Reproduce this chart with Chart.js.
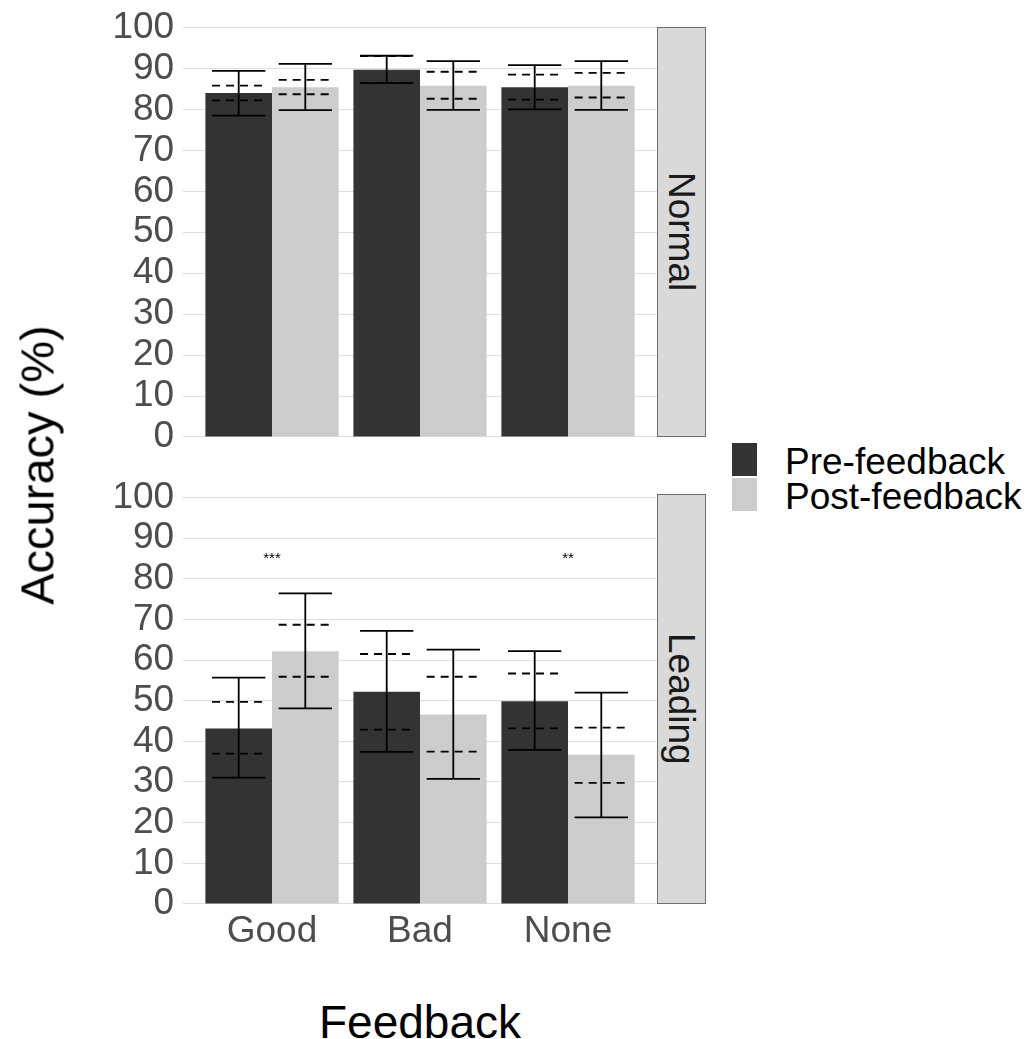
<!DOCTYPE html>
<html>
<head>
<meta charset="utf-8">
<script src="https://cdn.jsdelivr.net/npm/chart.js@4/dist/chart.umd.min.js"></script>
<style>
  html, body { margin:0; padding:0; background:#fff; }
  body { width:1027px; height:1039px; position:relative; overflow:hidden; font-family:"Liberation Sans", Arial, sans-serif; }
  canvas { position:absolute; left:0; }
  .strip { position:absolute; box-sizing:border-box; background:#d9d9d9; border:1px solid #6e6e6e;
           display:flex; align-items:center; justify-content:center; }
  .strip span { writing-mode:vertical-rl; font-size:37px; color:#1a1a1a; line-height:1; }
  .ytitle { position:absolute; font-size:47px; color:#000; white-space:nowrap; line-height:1;
            transform:translate(-50%,-50%) rotate(-90deg); }
  .xtitle { position:absolute; font-size:46px; color:#000; white-space:nowrap; line-height:1;
            transform:translate(-50%,-50%); }
  .key { position:absolute; width:25px; height:33px; }
  .ltext { position:absolute; font-size:37px; color:#000; line-height:1; white-space:nowrap; transform:translateY(-50%); }
</style>
</head>
<body>
<canvas id="c1" width="720" height="470" style="top:0;width:720px;height:470px"></canvas>
<canvas id="c2" width="720" height="500" style="top:470px;width:720px;height:500px"></canvas>

<div class="strip" style="left:656.8px;top:27px;width:49.5px;height:410px"><span>Normal</span></div>
<div class="strip" style="left:656.8px;top:494px;width:49.5px;height:410px"><span>Leading</span></div>
<div class="ytitle" style="left:37px;top:465px">Accuracy (%)</div>
<div class="xtitle" style="left:420px;top:1022px">Feedback</div>
<div class="key" style="left:732px;top:443px;background:#333333"></div>
<div class="key" style="left:732px;top:478px;background:#cccccc"></div>
<div class="ltext" style="left:785px;top:461px">Pre-feedback</div>
<div class="ltext" style="left:785px;top:496px">Post-feedback</div>

<script>
// ---- data ----
const categories = ['Good', 'Bad', 'None'];
const seriesNames = ['Pre-feedback', 'Post-feedback'];
const yTicks = [0, 10, 20, 30, 40, 50, 60, 70, 80, 90, 100];

// Normal condition
const normalPre = [84.0, 89.7, 85.4];
const normalPost = [85.4, 85.8, 85.8];
const normalPreLow = [78.5, 86.4, 80.0];
const normalPreHigh = [89.4, 93.1, 90.8];
const normalPostLow = [79.8, 79.9, 79.9];
const normalPostHigh = [91.1, 91.8, 91.8];
const normalPreDashLow = [82.2, 86.4, 82.4];
const normalPreDashHigh = [85.8, 93.0, 88.5];
const normalPostDashLow = [83.7, 82.6, 82.9];
const normalPostDashHigh = [87.2, 89.2, 88.9];
const normalSig = ['', '', ''];

// Leading condition
const leadingPre = [43.2, 52.2, 49.9];
const leadingPost = [62.2, 46.6, 36.7];
const leadingPreLow = [31.1, 37.4, 37.9];
const leadingPreHigh = [55.7, 67.2, 62.2];
const leadingPostLow = [48.1, 30.8, 21.3];
const leadingPostHigh = [76.4, 62.6, 52.0];
const leadingPreDashLow = [37.0, 42.9, 43.2];
const leadingPreDashHigh = [49.7, 61.5, 56.7];
const leadingPostDashLow = [55.9, 37.5, 29.8];
const leadingPostDashHigh = [68.7, 55.9, 43.4];
const leadingSig = ['***', '', '**'];
const sigLevel = 85;

// ---- chart helpers ----
const FONT = '"Liberation Sans", Arial, sans-serif';
const PANEL_LEFT = 183.2;
const PANEL_RIGHT_PAD = 63.2;

const errorPlugin = {
  id: 'errorbars',
  afterDatasetsDraw(chart) {
    const ctx = chart.ctx;
    const ys = chart.scales.y;
    chart.data.datasets.forEach((ds, i) => {
      const meta = chart.getDatasetMeta(i);
      meta.data.forEach((el, j) => {
        const cx = el.x;
        const half = el.width * 0.4;
        ctx.save();
        ctx.strokeStyle = '#000';
        ctx.lineWidth = 1.8;
        ctx.setLineDash([8, 6]);
        [ds.dashLow[j], ds.dashHigh[j]].forEach(v => {
          const py = ys.getPixelForValue(v);
          ctx.beginPath(); ctx.moveTo(cx - half, py); ctx.lineTo(cx + half, py); ctx.stroke();
        });
        ctx.setLineDash([]);
        const lo = ys.getPixelForValue(ds.errLow[j]);
        const hi = ys.getPixelForValue(ds.errHigh[j]);
        ctx.beginPath();
        ctx.moveTo(cx - half, hi); ctx.lineTo(cx + half, hi);
        ctx.moveTo(cx, hi); ctx.lineTo(cx, lo);
        ctx.moveTo(cx - half, lo); ctx.lineTo(cx + half, lo);
        ctx.stroke();
        ctx.restore();
      });
    });
    const sig = chart.options.plugins.errorbars.sig;
    const xs = chart.scales.x;
    ctx.save();
    ctx.fillStyle = '#000';
    ctx.font = '15px ' + FONT;
    ctx.textAlign = 'center';
    ctx.textBaseline = 'middle';
    sig.forEach((s, j) => {
      if (!s) return;
      ctx.fillText(s, xs.getPixelForValue(j + 1), ys.getPixelForValue(sigLevel));
    });
    ctx.restore();
  }
};

function makeChart(id, pre, post, preLo, preHi, postLo, postHi, preDL, preDH, postDL, postDH, sig, showX, pad) {
  return new Chart(document.getElementById(id), {
    type: 'bar',
    data: {
      datasets: [
        { label: seriesNames[0], data: pre.map((v, i) => ({ x: i + 1, y: v })), backgroundColor: '#333333',
          errLow: preLo, errHigh: preHi, dashLow: preDL, dashHigh: preDH },
        { label: seriesNames[1], data: post.map((v, i) => ({ x: i + 1, y: v })), backgroundColor: '#cccccc',
          errLow: postLo, errHigh: postHi, dashLow: postDL, dashHigh: postDH }
      ]
    },
    options: {
      responsive: false,
      animation: false,
      devicePixelRatio: 1,
      layout: { padding: pad },
      categoryPercentage: 0.9,
      barPercentage: 1.0,
      plugins: { legend: { display: false }, tooltip: { enabled: false }, errorbars: { sig: sig } },
      scales: {
        x: {
          type: 'linear', min: 0.4, max: 3.6, offset: false,
          display: showX,
          grid: { display: false, drawTicks: false },
          border: { display: false },
          afterBuildTicks: (s) => { s.ticks = categories.map((c, i) => ({ value: i + 1 })); },
          afterFit: (s) => { s.height = showX ? 66 : 0; },
          ticks: {
            padding: 6, color: '#4d4d4d', font: { family: FONT, size: 37 },
            callback: (v) => categories[v - 1], maxRotation: 0, autoSkip: false
          }
        },
        y: {
          min: 0, max: 100,
          afterBuildTicks: (s) => { s.ticks = yTicks.map(v => ({ value: v })); },
          afterFit: (s) => { s.width = PANEL_LEFT; },
          grid: { color: '#dedede', lineWidth: 1.1, drawTicks: false },
          border: { display: false },
          ticks: { padding: 9, color: '#4d4d4d', font: { family: FONT, size: 37, lineHeight: 1 }, autoSkip: false }
        }
      }
    },
    plugins: [errorPlugin]
  });
}

makeChart('c1', normalPre, normalPost, normalPreLow, normalPreHigh, normalPostLow, normalPostHigh,
  normalPreDashLow, normalPreDashHigh, normalPostDashLow, normalPostDashHigh, normalSig, false,
  { top: 27, right: PANEL_RIGHT_PAD, bottom: 33, left: 0 });
makeChart('c2', leadingPre, leadingPost, leadingPreLow, leadingPreHigh, leadingPostLow, leadingPostHigh,
  leadingPreDashLow, leadingPreDashHigh, leadingPostDashLow, leadingPostDashHigh, leadingSig, true,
  { top: 24, right: PANEL_RIGHT_PAD, bottom: 0, left: 0 });
</script>
</body>
</html>
